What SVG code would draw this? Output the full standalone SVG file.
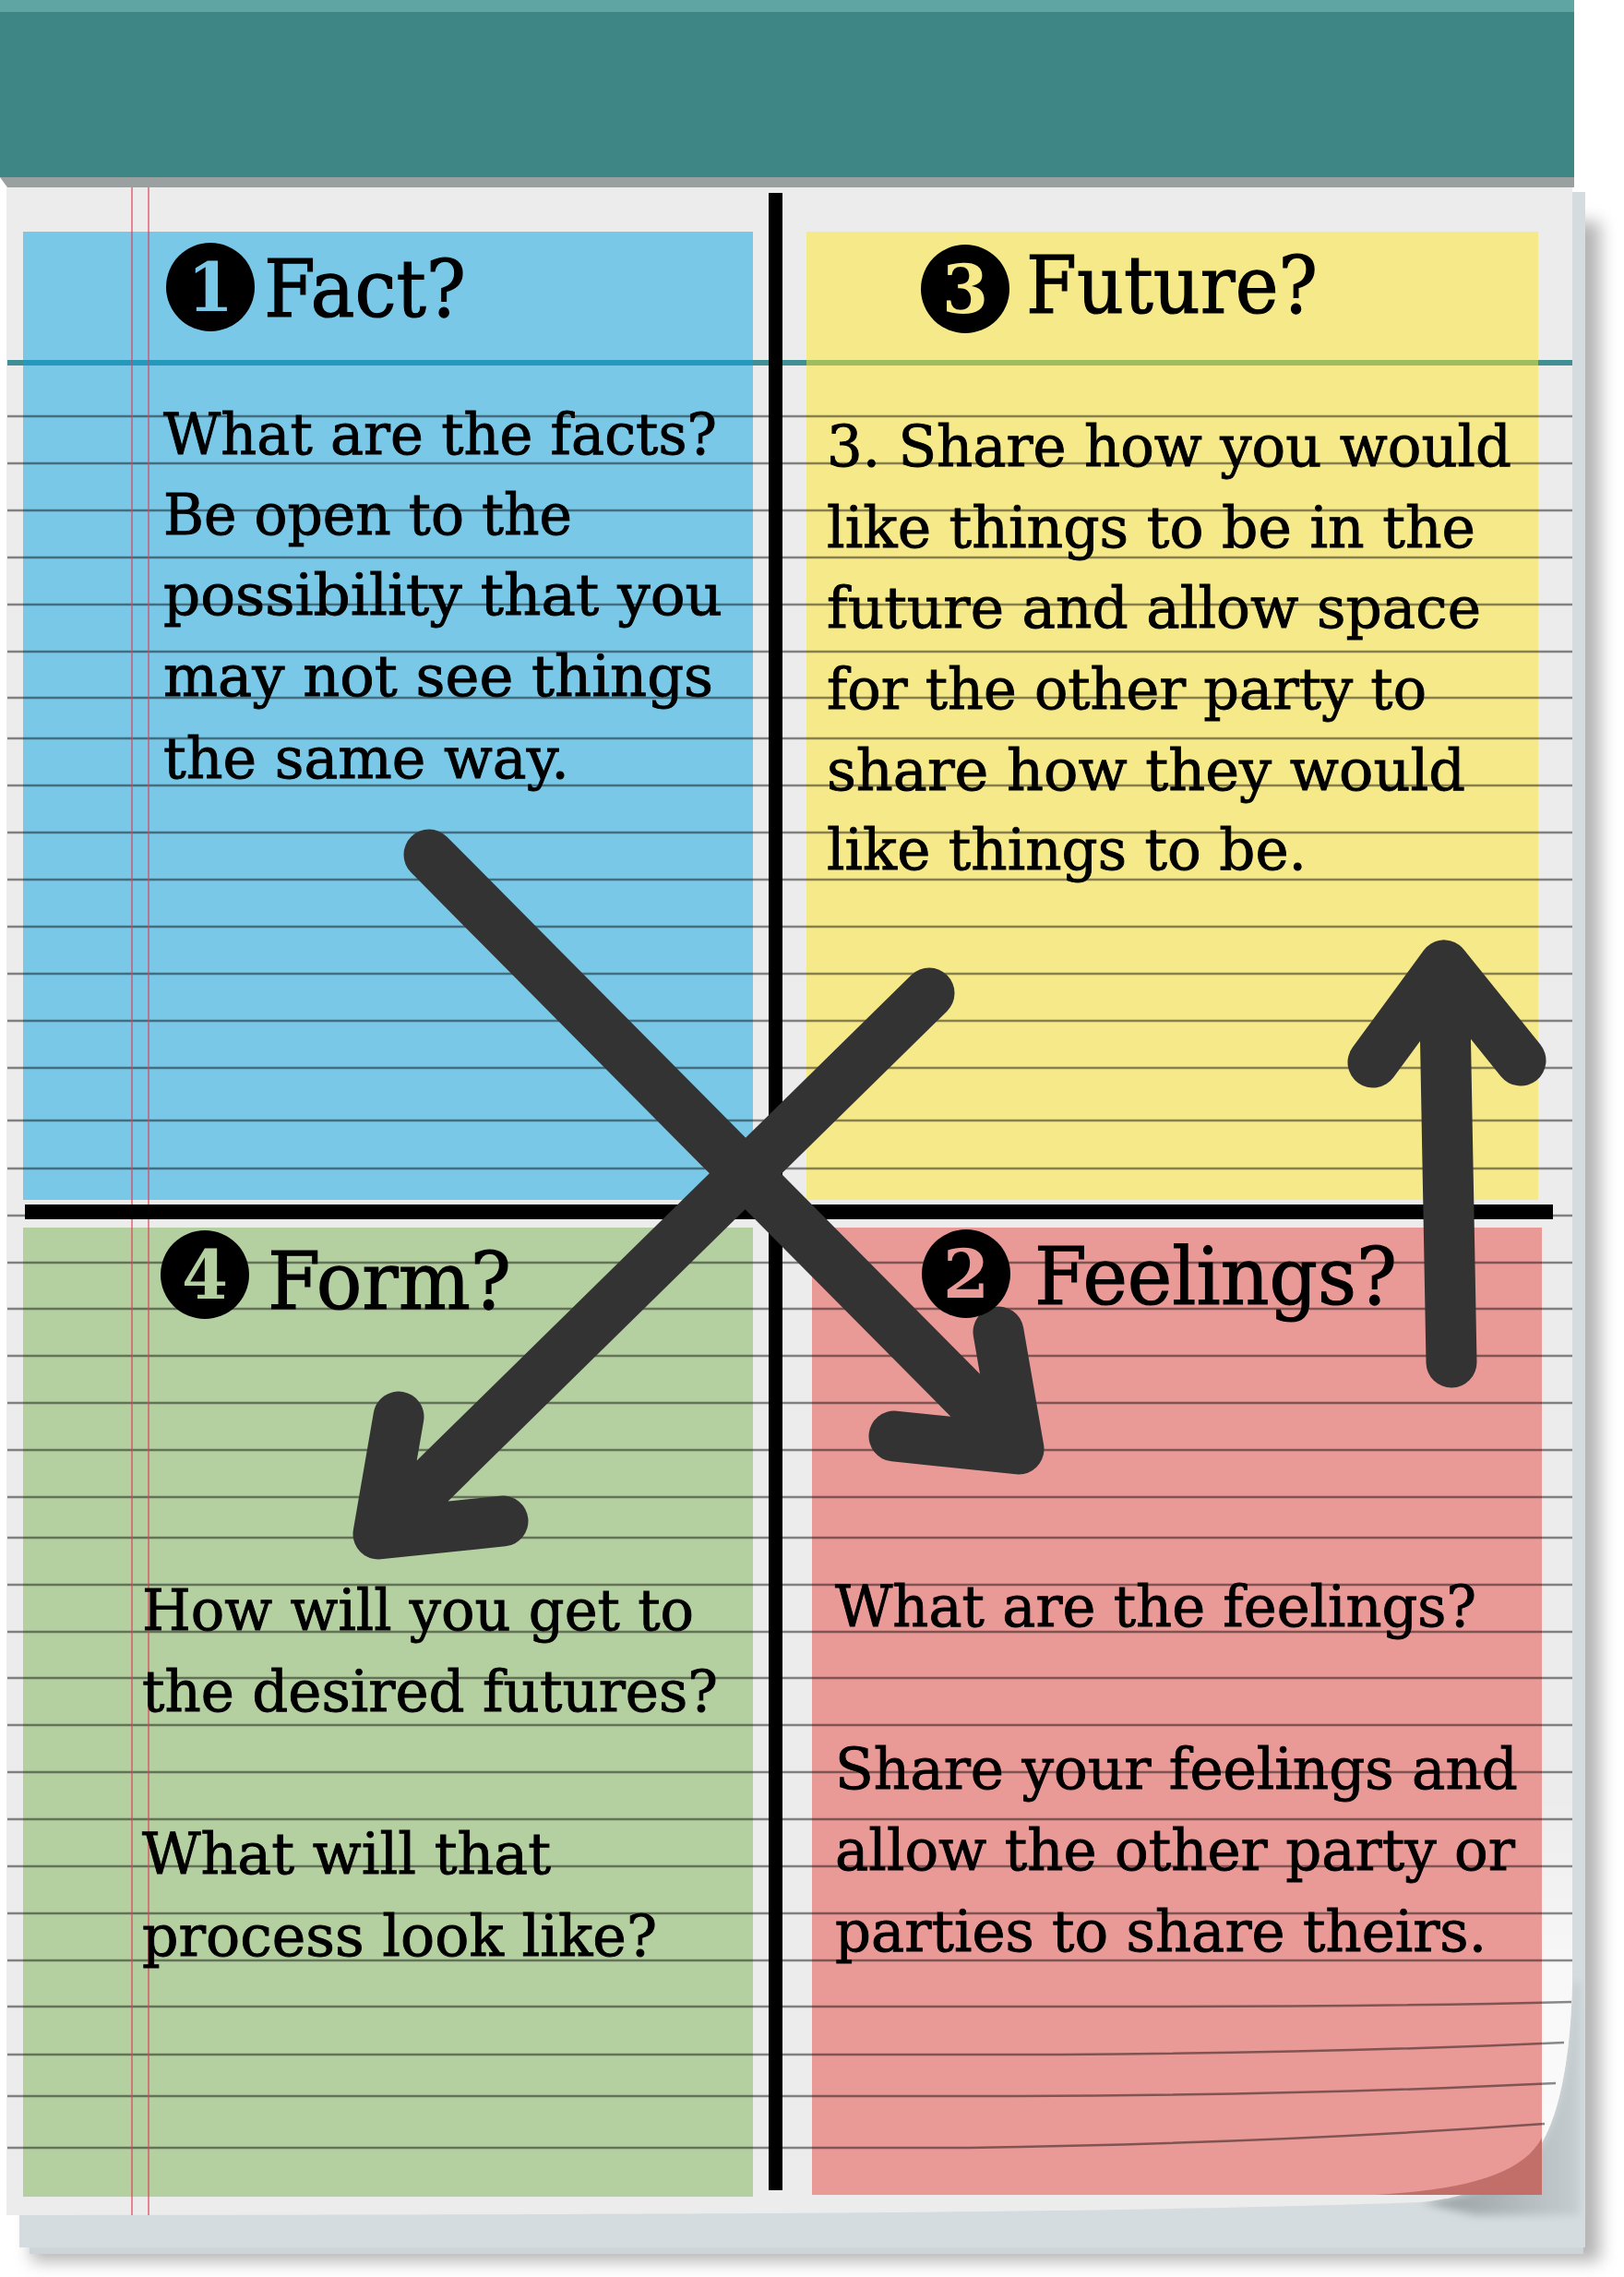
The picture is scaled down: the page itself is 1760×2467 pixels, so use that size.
<svg xmlns="http://www.w3.org/2000/svg" width="1760" height="2467" viewBox="0 0 1760 2467">
<defs>
<style>
.hd{font-family:"DejaVu Serif","Liberation Serif",serif;font-size:86px;fill:#000;stroke:#000;stroke-width:1.2}
.bd{font-family:"DejaVu Serif","Liberation Serif",serif;font-size:62px;fill:#000;stroke:#000;stroke-width:0.9}
.num{font-family:"DejaVu Serif","Liberation Serif",serif;font-size:72px;font-weight:bold;text-anchor:middle}
.rule{fill:none;stroke:#000;stroke-opacity:0.45;stroke-width:2.5}
.arrow{fill:none;stroke:#333;stroke-width:55;stroke-linecap:round;stroke-linejoin:round}
</style>
<filter id="blur" x="-5%" y="-5%" width="110%" height="110%"><feGaussianBlur stdDeviation="9"/></filter>
<filter id="blur2" x="-20%" y="-20%" width="140%" height="140%"><feGaussianBlur stdDeviation="5"/></filter>
<linearGradient id="curlsh" x1="0" y1="0" x2="1" y2="0"><stop offset="0" stop-color="#949ca0"/><stop offset="1" stop-color="#c6cdd0"/></linearGradient>
<linearGradient id="curlw" x1="0" y1="0" x2="0" y2="1"><stop offset="0" stop-color="#f8f8f8" stop-opacity="0"/><stop offset="0.5" stop-color="#f8f8f8" stop-opacity="1"/><stop offset="1" stop-color="#fafafa" stop-opacity="1"/></linearGradient>
</defs>
<rect width="1760" height="2467" fill="#fff"/>
<!-- shadow and back pages -->
<rect x="34" y="240" width="1700" height="2210" fill="#777" opacity="0.55" filter="url(#blur)"/>
<rect x="32" y="215" width="1684" height="2227" fill="#cdd5d9"/>
<rect x="21" y="208" width="1697" height="2227" fill="#d5dcdf"/>
<path d="M1704,2148 C1702,2230 1690,2290 1670,2323 C1640,2360 1600,2380 1540,2386 L1600,2400 L1712,2400 L1712,2148 Z" fill="url(#curlsh)" filter="url(#blur2)"/>
<!-- header -->
<rect x="0" y="0" width="1706" height="192" fill="#3e8686"/>
<rect x="0" y="0" width="1706" height="13" fill="#5fa5a3"/>
<path d="M0,192 H1706 V203 H8 Z" fill="#9aa0a0"/>
<!-- paper -->
<path d="M7,203 H1704 V2148 C1702,2230 1690,2290 1670,2323 C1640,2360 1600,2380 1540,2386 C1300,2394 1000,2400 7,2400 Z" fill="#ececec"/>
<path d="M1671,1950 H1704 V2148 C1702,2230 1690,2290 1670,2323 Z" fill="url(#curlw)"/>
<!-- notes -->
<g id="node-fact"><rect x="25" y="251" width="791" height="1049" fill="#79c8e7"/></g>
<g id="node-future"><rect x="874" y="251" width="793" height="1049" fill="#f6e98a"/></g>
<g id="node-form"><rect x="25" y="1330" width="791" height="1050" fill="#b4d0a0"/></g>
<g id="node-feelings"><rect x="880" y="1330" width="791" height="1048" fill="#ea9a96"/>
<path d="M1490,2378 C1590,2372 1650,2356 1671,2316 V2378 Z" fill="#c26f6a"/></g>
<!-- teal rule -->
<line x1="8" y1="393" x2="1704" y2="393" stroke="#3f8f94" stroke-width="6"/>
<line x1="25" y1="393" x2="816" y2="393" stroke="#2698bb" stroke-width="6"/>
<line x1="874" y1="393" x2="1667" y2="393" stroke="#9dbd5e" stroke-width="6"/>
<!-- ruled lines -->
<path class="rule" d="M8,451H1704M8,502H1704M8,553H1704M8,604H1704M8,655H1704M8,706H1704M8,756H1704M8,800H1704M8,851H1704M8,902H1704M8,953H1704M8,1004H1704M8,1055H1704M8,1106H1704M8,1157H1704M8,1214H1704M8,1266H1704M8,1317H1704M8,1368H1704M8,1418H1704M8,1469H1704M8,1520H1704M8,1571H1704M8,1622H1704M8,1666H1704M8,1717H1704M8,1768H1704M8,1818H1704M8,1869H1704M8,1920H1704M8,1971H1704M8,2022H1704M8,2073H1704M8,2124H1704"/>
<path class="rule" d="M8,2174H1250Q1500,2174 1703,2169M8,2226H1150Q1450,2224 1695,2213M8,2271H1100Q1420,2270 1686,2257M8,2327H1050Q1380,2322 1674,2301"/>
<!-- margin lines -->
<path d="M143,203V2400M161,203V2400" stroke="#e0405c" stroke-opacity="0.6" stroke-width="2" fill="none"/>
<!-- black dividers -->
<rect x="833" y="209" width="15" height="2164" fill="#000"/>
<rect x="27" y="1305" width="1656" height="16" fill="#000"/>
<!-- body texts -->
<g id="text-fact">
<text class="bd" x="177" y="492" textLength="600" lengthAdjust="spacingAndGlyphs">What are the facts?</text>
<text class="bd" x="177" y="579" textLength="443" lengthAdjust="spacingAndGlyphs">Be open to the</text>
<text class="bd" x="177" y="666" textLength="606" lengthAdjust="spacingAndGlyphs">possibility that you</text>
<text class="bd" x="177" y="754" textLength="596" lengthAdjust="spacingAndGlyphs">may not see things</text>
<text class="bd" x="177" y="843" textLength="440" lengthAdjust="spacingAndGlyphs">the same way.</text>
</g>
<g id="text-future">
<text class="bd" x="896" y="505" textLength="742" lengthAdjust="spacingAndGlyphs">3. Share how you would</text>
<text class="bd" x="896" y="593" textLength="703" lengthAdjust="spacingAndGlyphs">like things to be in the</text>
<text class="bd" x="896" y="680" textLength="709" lengthAdjust="spacingAndGlyphs">future and allow space</text>
<text class="bd" x="896" y="768" textLength="650" lengthAdjust="spacingAndGlyphs">for the other party to</text>
<text class="bd" x="896" y="856" textLength="692" lengthAdjust="spacingAndGlyphs">share how they would</text>
<text class="bd" x="896" y="942" textLength="520" lengthAdjust="spacingAndGlyphs">like things to be.</text>
</g>
<g id="text-form">
<text class="bd" x="154" y="1766" textLength="598" lengthAdjust="spacingAndGlyphs">How will you get to</text>
<text class="bd" x="154" y="1854" textLength="624" lengthAdjust="spacingAndGlyphs">the desired futures?</text>
<text class="bd" x="154" y="2030" textLength="443" lengthAdjust="spacingAndGlyphs">What will that</text>
<text class="bd" x="154" y="2119" textLength="558" lengthAdjust="spacingAndGlyphs">process look like?</text>
</g>
<g id="text-feelings">
<text class="bd" x="905" y="1762" textLength="695" lengthAdjust="spacingAndGlyphs">What are the feelings?</text>
<text class="bd" x="905" y="1938" textLength="740" lengthAdjust="spacingAndGlyphs">Share your feelings and</text>
<text class="bd" x="905" y="2026" textLength="737" lengthAdjust="spacingAndGlyphs">allow the other party or</text>
<text class="bd" x="905" y="2114" textLength="706" lengthAdjust="spacingAndGlyphs">parties to share theirs.</text>
</g>
<!-- connectors -->
<g id="connectors">
<path class="arrow" d="M465,926 L1104,1570 M1082,1443 L1104,1570 L969,1556"/>
<path class="arrow" d="M1007,1076 L410,1662 M432,1535 L410,1662 L545,1648"/>
<path class="arrow" d="M1573,1476 L1565,1046 M1488,1151 L1565,1046 L1648,1149"/>
</g>
<!-- headings -->
<g id="head-fact">
<circle cx="228" cy="311" r="48" fill="#000"/>
<text class="num" x="228" y="337" fill="#79c8e7">1</text>
<text class="hd" x="286" y="343" textLength="219" lengthAdjust="spacingAndGlyphs">Fact?</text>
</g>
<g id="head-future">
<circle cx="1046" cy="313" r="48" fill="#000"/>
<text class="num" x="1046" y="339" fill="#f6e98a">3</text>
<text class="hd" x="1112" y="339" textLength="316" lengthAdjust="spacingAndGlyphs">Future?</text>
</g>
<g id="head-form">
<circle cx="222" cy="1381" r="48" fill="#000"/>
<text class="num" x="222" y="1407" fill="#b4d0a0">4</text>
<text class="hd" x="290" y="1418" textLength="264" lengthAdjust="spacingAndGlyphs">Form?</text>
</g>
<g id="head-feelings">
<circle cx="1047" cy="1380" r="48" fill="#000"/>
<text class="num" x="1047" y="1406" fill="#ea9a96">2</text>
<text class="hd" x="1121" y="1413" textLength="393" lengthAdjust="spacingAndGlyphs">Feelings?</text>
</g>
</svg>
